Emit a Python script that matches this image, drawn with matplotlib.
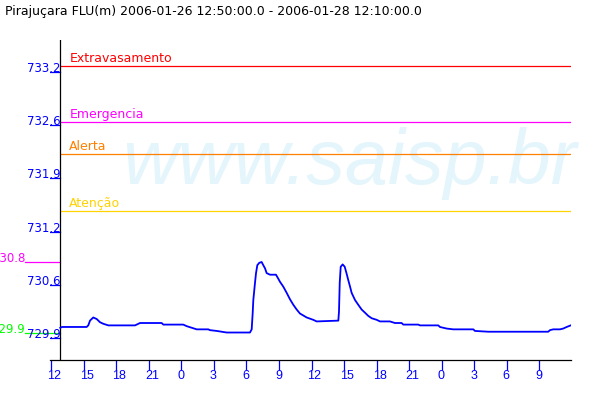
"""Pirajuçara FLU(m) water-level chart, 2006-01-26 12:50 to 2006-01-28 12:10."""
import matplotlib

matplotlib.use("Agg")
import matplotlib.pyplot as plt  # noqa: E402
from matplotlib.transforms import ScaledTranslation  # noqa: E402

# --------------------------------------------------------------------------------------
# Data (time in hours since 2006-01-26 12:00, level in metres)
# --------------------------------------------------------------------------------------
HOURS = [
    0.83, 0.99, 3.26, 3.41, 3.57, 3.87, 4.19, 4.49, 4.80, 5.26, 7.72, 8.18, 10.18,
    10.33, 12.17, 12.49, 12.95, 13.41, 14.48, 14.63, 15.25, 16.17, 18.32, 18.48,
    18.57, 18.63, 18.78, 18.88, 19.00, 19.18, 19.40, 19.55, 19.71, 19.86, 20.17,
    20.72, 20.93, 21.09, 21.39, 21.71, 22.01, 22.32, 22.63, 22.93, 23.55, 24.16,
    24.47, 26.47, 26.53, 26.60, 26.69, 26.87, 27.06, 27.24, 27.39, 27.55, 27.70,
    28.01, 28.31, 28.62, 28.93, 29.23, 29.55, 30.01, 30.31, 31.23, 31.69, 32.31,
    32.46, 33.84, 34.00, 35.69, 35.84, 36.46, 37.07, 38.92, 39.07, 40.30, 45.83,
    45.99, 46.29, 46.91, 47.21, 47.53, 47.90,
]
LEVELS = [
    729.97, 729.98, 729.98, 730.00, 730.06, 730.10, 730.08, 730.04, 730.02, 730.00,
    730.00, 730.03, 730.03, 730.01, 730.01, 729.99, 729.97, 729.95, 729.95, 729.94,
    729.93, 729.91, 729.91, 729.95, 730.15, 730.32, 730.53, 730.66, 730.76, 730.79,
    730.80, 730.76, 730.72, 730.66, 730.64, 730.64, 730.59, 730.55, 730.49, 730.41,
    730.33, 730.26, 730.20, 730.15, 730.10, 730.07, 730.05, 730.06, 730.17, 730.54,
    730.74, 730.77, 730.74, 730.65, 730.57, 730.49, 730.41, 730.32, 730.26, 730.20,
    730.16, 730.12, 730.09, 730.07, 730.05, 730.05, 730.03, 730.03, 730.01, 730.01,
    730.00, 730.00, 729.98, 729.96, 729.95, 729.95, 729.93, 729.92, 729.92, 729.94,
    729.95, 729.95, 729.96, 729.98, 730.00,
]

X_TICKS = list(range(0, 46, 3))
X_TICK_LABELS = ["12", "15", "18", "21", "0", "3", "6", "9",
                 "12", "15", "18", "21", "0", "3", "6", "9"]
Y_TICKS = [729.84, 730.51, 731.18, 731.86, 732.53, 733.20]
Y_TICK_LABELS = ["729.9", "730.6", "731.2", "731.9", "732.6", "733.2"]

THRESHOLD_NAMES = ["Extravasamento", "Emergencia", "Alerta", "Atenção"]
THRESHOLD_LEVELS = [733.27, 732.57, 732.16, 731.45]
THRESHOLD_COLORS = ["#FF0000", "#FF00FF", "#FF8000", "#FFD200"]

MAX_LEVEL = 730.8
MIN_LEVEL = 729.9

TITLE = "Pirajuçara FLU(m) 2006-01-26 12:50:00.0 - 2006-01-28 12:10:00.0"
START_H = 0.833
X_MIN, X_MAX = -0.12, 47.9
Y_MIN, Y_MAX = 729.563, 733.603

BLUE = "#0000FF"

plt.rcParams["font.family"] = ["DejaVu Sans"]

fig = plt.figure(figsize=(6, 4), dpi=100)
ax = fig.add_axes([50 / 600, 0.1, 520.7 / 600, 0.8])
ax.set_facecolor("none")
ax.set_xlim(X_MIN, X_MAX)
ax.set_ylim(Y_MIN, Y_MAX)

for side in ("left", "top", "right"):
    ax.spines[side].set_visible(False)
ax.spines["bottom"].set_linewidth(0.9)

# watermark behind everything
ax.text(122 / 600, 1 - 184 / 400, "www.saisp.br", transform=fig.transFigure,
        fontsize=55.5, fontstyle="italic", family="Liberation Sans",
        color="#E4F5FC", ha="left", va="baseline", zorder=0, clip_on=False)

# y axis line at the first sample
ax.axvline(START_H, color="black", linewidth=0.9, zorder=3)

# threshold lines
for name, level, color in zip(THRESHOLD_NAMES, THRESHOLD_LEVELS, THRESHOLD_COLORS):
    ax.hlines(level, START_H, X_MAX, color=color, linewidth=0.9, zorder=2)
    ax.annotate(name, (START_H, level), xytext=(9, 4), textcoords="offset pixels",
                fontsize=9, color=color, ha="left", va="baseline")

# max / min markers on the left margin
for level, color in ((MAX_LEVEL, "#FF00FF"), (MIN_LEVEL, "#00FF00")):
    ax.plot([-2.43, START_H], [level, level], color=color, linewidth=0.9,
            clip_on=False, zorder=2)
    ax.text(-2.43, level, f"{level:.1f}", color=color, fontsize=8.5,
            ha="right", va="baseline", clip_on=False)

# y ticks and labels
tick_frac = (START_H - X_MIN) / (X_MAX - X_MIN)
for value, label in zip(Y_TICKS, Y_TICK_LABELS):
    ax.axhline(value, xmin=0, xmax=tick_frac, color=BLUE, linewidth=0.9)
    ax.text(START_H, value, label, color=BLUE, fontsize=8.5, ha="right",
            va="baseline")
ax.set_yticks([])

# x ticks
ax.set_xticks(X_TICKS)
ax.set_xticklabels(X_TICK_LABELS, family="Liberation Sans")
ax.tick_params(axis="x", direction="out", length=7.2, width=0.9, color=BLUE,
               labelcolor=BLUE, labelsize=9, pad=0)
shift = ScaledTranslation(-4 / 100, 0, fig.dpi_scale_trans)
for lab in ax.get_xticklabels():
    lab.set_ha("left")
    lab.set_transform(lab.get_transform() + shift)

# level series
ax.plot(HOURS, LEVELS, color=BLUE, linewidth=1.3, zorder=4)

fig.text(5 / 600, 1 - 12 / 400, TITLE, fontsize=9, color="black",
         ha="left", va="center")

fig.savefig("out.png", dpi=100, facecolor="white")
